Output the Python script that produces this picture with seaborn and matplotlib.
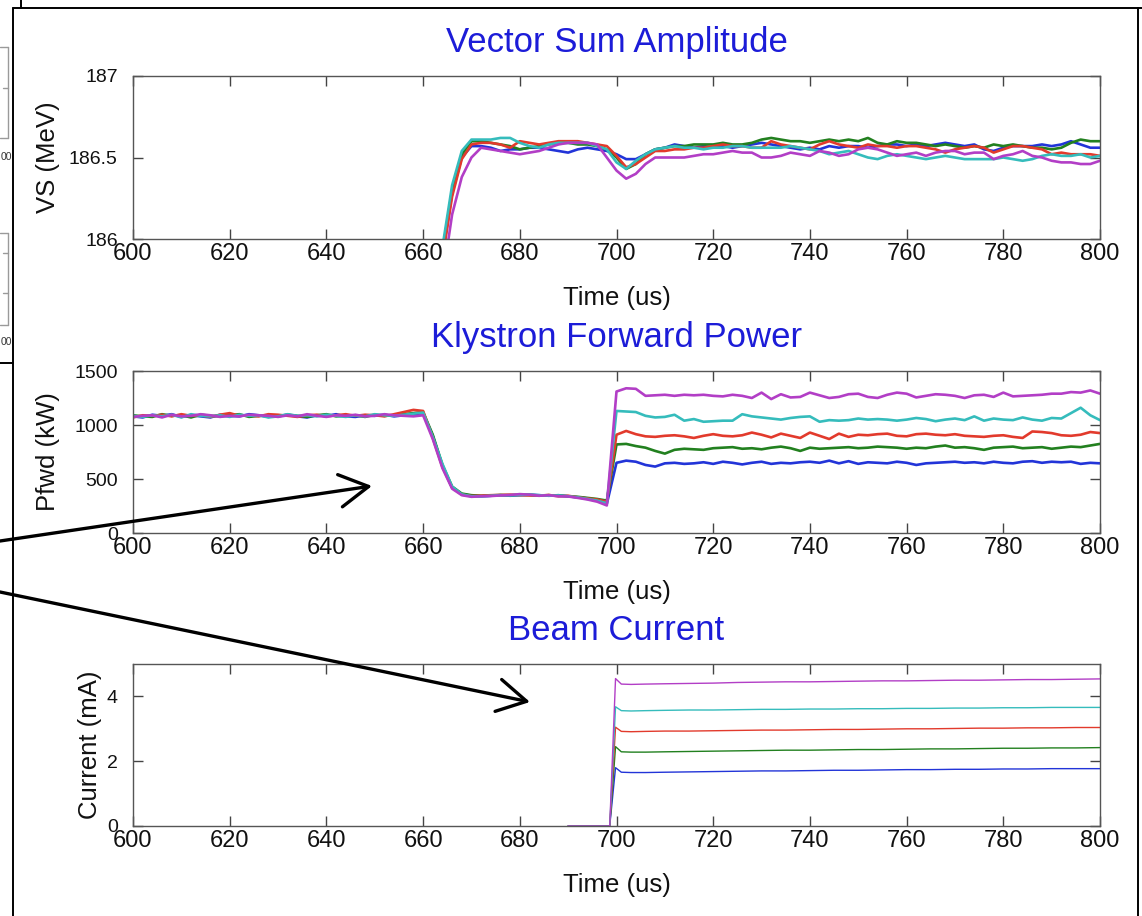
import numpy as np
import pandas as pd
import matplotlib
matplotlib.use("Agg")
import matplotlib.pyplot as plt
from matplotlib.lines import Line2D
from matplotlib.patches import FancyArrowPatch
import seaborn as sns

# ---------------- data ----------------
SERIES = ["s1", "s2", "s3", "s4", "s5"]
COLORS = ["#2234d8", "#22801f", "#e23a2c", "#35bcbc", "#b23ec6"]

# Vector sum amplitude (MeV), time 662..800 us step 2
T_VS = list(range(662, 801, 2))
VS_1 = [185.50,185.90,186.28,186.50,186.57,186.57,186.56,186.54,186.55,186.55,
        186.56,186.56,186.55,186.54,186.53,186.55,186.56,186.55,186.54,186.52,
        186.49,186.49,186.52,186.55,186.56,186.58,186.57,186.56,186.57,186.56,
        186.57,186.56,186.57,186.58,186.59,186.58,186.57,186.56,186.55,186.56,
        186.55,186.57,186.56,186.57,186.57,186.56,186.57,186.58,186.58,186.57,
        186.58,186.57,186.58,186.59,186.58,186.57,186.58,186.55,186.54,186.56,
        186.57,186.57,186.57,186.58,186.57,186.58,186.60,186.58,186.56,186.56]
VS_2 = [185.50,185.92,186.30,186.52,186.60,186.60,186.59,186.58,186.57,186.55,
        186.56,186.57,186.58,186.59,186.59,186.58,186.58,186.57,186.55,186.50,
        186.43,186.46,186.52,186.55,186.56,186.57,186.57,186.58,186.58,186.58,
        186.59,186.58,186.58,186.59,186.61,186.62,186.61,186.60,186.60,186.59,
        186.60,186.61,186.60,186.61,186.60,186.62,186.59,186.58,186.60,186.59,
        186.59,186.58,186.57,186.58,186.57,186.56,186.57,186.56,186.58,186.57,
        186.58,186.57,186.56,186.56,186.55,186.56,186.59,186.61,186.60,186.60]
VS_3 = [185.50,185.88,186.26,186.49,186.58,186.59,186.59,186.58,186.56,186.60,
        186.59,186.58,186.59,186.60,186.60,186.60,186.59,186.58,186.57,186.51,
        186.44,186.46,186.50,186.54,186.54,186.55,186.55,186.56,186.56,186.57,
        186.58,186.57,186.57,186.56,186.56,186.60,186.58,186.57,186.56,186.55,
        186.58,186.60,186.58,186.57,186.56,186.58,186.57,186.57,186.56,186.57,
        186.57,186.56,186.55,186.53,186.55,186.56,186.57,186.56,186.53,186.55,
        186.57,186.57,186.56,186.55,186.52,186.53,186.52,186.52,186.52,186.51]
VS_4 = [185.50,185.95,186.33,186.54,186.61,186.61,186.61,186.62,186.62,186.59,
        186.57,186.56,186.58,186.59,186.59,186.59,186.59,186.57,186.55,186.47,
        186.43,186.48,186.52,186.55,186.56,186.57,186.56,186.56,186.55,186.56,
        186.56,186.57,186.57,186.56,186.56,186.56,186.56,186.57,186.56,186.55,
        186.54,186.52,186.53,186.54,186.52,186.50,186.49,186.51,186.52,186.51,
        186.50,186.49,186.50,186.51,186.50,186.49,186.49,186.49,186.49,186.50,
        186.49,186.48,186.49,186.51,186.52,186.51,186.51,186.52,186.50,186.51]
VS_5 = [185.50,185.75,186.15,186.38,186.50,186.56,186.55,186.54,186.53,186.52,
        186.53,186.54,186.56,186.58,186.59,186.59,186.59,186.58,186.50,186.42,
        186.37,186.40,186.46,186.50,186.50,186.50,186.50,186.51,186.52,186.52,
        186.53,186.54,186.53,186.53,186.50,186.50,186.51,186.53,186.52,186.51,
        186.54,186.53,186.51,186.52,186.55,186.56,186.55,186.53,186.51,186.52,
        186.53,186.51,186.53,186.54,186.54,186.52,186.53,186.53,186.49,186.51,
        186.52,186.54,186.51,186.50,186.48,186.47,186.47,186.46,186.46,186.48]

# Klystron forward power (kW), time 600..800 us step 2
T_PF = list(range(600, 801, 2))
PF_1 = [1080,1070,1095,1085,1100,1075,1090,1080,1070,1095,1085,1080,1100,1090,1075,
        1085,1095,1080,1070,1090,1085,1100,1080,1075,1090,1085,1095,1080,1090,1100,
        1110,900,620,420,360,345,340,345,350,345,350,355,350,345,350,340,330,320,300,270,
        650,670,660,630,615,645,650,640,645,655,640,660,650,635,650,660,640,650,645,655,
        660,650,670,645,665,640,655,650,645,660,650,630,645,650,655,660,650,655,645,660,
        650,645,660,665,650,660,655,660,640,650,645]
PF_2 = [1090,1080,1075,1100,1085,1090,1070,1095,1085,1080,1090,1100,1075,1085,1090,
        1080,1095,1085,1075,1090,1100,1080,1085,1090,1075,1095,1085,1090,1100,1110,
        1120,910,630,430,365,350,345,348,352,350,355,352,348,350,345,340,335,325,315,300,
        820,825,805,790,760,735,770,780,775,770,785,790,795,780,785,775,790,800,785,760,
        790,780,785,790,795,785,790,800,795,790,780,790,785,800,810,790,795,785,770,790,
        795,800,785,790,795,780,790,800,795,810,825]
PF_3 = [1070,1090,1085,1095,1080,1100,1085,1090,1075,1095,1110,1085,1090,1080,1100,
        1095,1085,1075,1090,1095,1080,1090,1100,1085,1095,1090,1080,1100,1120,1140,
        1130,880,610,420,355,342,345,350,352,355,350,348,345,352,340,345,330,320,310,290,
        910,945,915,895,890,900,905,895,880,900,915,900,895,905,930,910,885,920,900,880,
        930,900,870,920,890,910,905,915,920,900,895,915,920,910,905,915,900,895,890,900,
        905,890,880,940,935,925,905,900,910,935,925]
PF_4 = [1085,1075,1090,1080,1095,1070,1100,1085,1080,1090,1075,1095,1085,1090,1070,
        1080,1100,1085,1090,1080,1095,1085,1075,1090,1080,1100,1090,1085,1095,1105,
        1115,890,640,430,358,340,338,345,350,348,352,355,350,345,348,340,330,315,300,275,
        1130,1125,1120,1085,1070,1075,1095,1040,1055,1030,1035,1040,1040,1100,1080,1070,
        1060,1050,1065,1075,1080,1030,1045,1040,1045,1060,1050,1055,1050,1040,1050,1065,
        1055,1035,1050,1060,1045,1080,1040,1060,1050,1045,1070,1050,1040,1065,1060,1110,
        1160,1090,1045]
PF_5 = [1075,1085,1090,1070,1095,1080,1085,1100,1090,1075,1085,1080,1095,1090,1085,
        1075,1090,1080,1100,1085,1075,1090,1085,1095,1080,1085,1100,1090,1085,1080,
        1090,870,600,410,350,335,340,342,348,352,360,355,345,350,340,338,325,310,290,255,
        1310,1340,1335,1270,1275,1280,1270,1280,1275,1280,1270,1265,1280,1270,1250,1300,
        1240,1285,1255,1260,1300,1275,1250,1260,1285,1290,1260,1250,1280,1300,1290,1255,
        1270,1285,1280,1270,1250,1275,1280,1260,1300,1265,1270,1275,1280,1290,1290,1305,
        1300,1320,1290]

# Beam current (mA)
T_I = [690, 698.6, 699.8, 701, 703, 706, 710, 715, 720, 725, 730, 735, 740, 745,
       750, 755, 760, 765, 770, 775, 780, 785, 790, 795, 800]
I_1 = [0,0,1.80,1.66,1.65,1.65,1.66,1.67,1.68,1.69,1.70,1.70,1.71,1.72,1.72,1.73,
       1.74,1.74,1.75,1.75,1.76,1.76,1.77,1.77,1.77]
I_2 = [0,0,2.45,2.29,2.28,2.28,2.29,2.30,2.31,2.32,2.33,2.34,2.34,2.35,2.36,2.36,
       2.37,2.38,2.38,2.39,2.40,2.40,2.41,2.41,2.42]
I_3 = [0,0,3.05,2.92,2.91,2.92,2.93,2.93,2.94,2.95,2.96,2.96,2.97,2.98,2.98,2.99,
       3.00,3.00,3.01,3.02,3.02,3.03,3.03,3.04,3.04]
I_4 = [0,0,3.68,3.56,3.55,3.56,3.57,3.58,3.58,3.59,3.60,3.60,3.61,3.61,3.62,3.62,
       3.63,3.63,3.64,3.64,3.65,3.65,3.66,3.66,3.66]
I_5 = [0,0,4.55,4.38,4.37,4.38,4.39,4.40,4.41,4.43,4.44,4.45,4.45,4.46,4.47,4.48,
       4.48,4.49,4.50,4.50,4.51,4.52,4.52,4.53,4.54]

TITLES = ["Vector Sum Amplitude", "Klystron Forward Power", "Beam Current"]
YLABELS = ["VS (MeV)", "Pfwd (kW)", "Current (mA)"]
XLABEL = "Time (us)"
XTICKS = [600, 620, 640, 660, 680, 700, 720, 740, 760, 780, 800]
YTICKS = [[186, 186.5, 187], [0, 500, 1000, 1500], [0, 2, 4]]
YTICKLABELS = [["186", "186.5", "187"], ["0", "500", "1000", "1500"], ["0", "2", "4"]]
YLIMS = [(186, 187), (0, 1500), (0, 5)]


def long_df(t, arrays):
    rows = []
    for name, arr in zip(SERIES, arrays):
        rows.append(pd.DataFrame({"t": t, "v": arr, "s": name}))
    return pd.concat(rows, ignore_index=True)


frames = [long_df(T_VS, [VS_1, VS_2, VS_3, VS_4, VS_5]),
          long_df(T_PF, [PF_1, PF_2, PF_3, PF_4, PF_5]),
          long_df(T_I, [I_1, I_2, I_3, I_4, I_5])]
LWS = [1.9, 1.9, 1.0]

# ---------------- figure ----------------
sns.set_style("ticks")
plt.rcParams["font.family"] = ["Liberation Sans", "DejaVu Sans"]

W, H = 1142, 916
fig = plt.figure(figsize=(W / 100, H / 100), dpi=100)


def fx(x):
    return x / W


def fy(y):
    return 1 - y / H


ax_px = [(76, 239), (371, 533), (664, 826)]
YLAB_RIGHT = [60, 60, 102]   # right edge (px) of the rotated y labels
L, R = 133, 1100
palette = dict(zip(SERIES, COLORS))
TITLE_COLOR = "#1c1cd8"

for i, (top, bot) in enumerate(ax_px):
    ax = fig.add_axes([fx(L), fy(bot), fx(R) - fx(L), (bot - top) / H])
    sns.lineplot(data=frames[i], x="t", y="v", hue="s", palette=palette,
                 estimator=None, sort=False, legend=False, linewidth=LWS[i], ax=ax)
    ax.set_xlim(600, 800)
    ax.set_ylim(*YLIMS[i])
    ax.set_xticks(XTICKS)
    ax.set_xticklabels([str(v) for v in XTICKS])
    ax.set_yticks(YTICKS[i])
    ax.set_yticklabels(YTICKLABELS[i])
    ax.tick_params(direction="in", length=7, width=1, top=True, right=True,
                   colors="#444444", labelcolor="#111111")
    ax.tick_params(axis="x", labelsize=17, pad=3)
    ax.tick_params(axis="y", labelsize=14, pad=11)
    for sp in ax.spines.values():
        sp.set_visible(True)
        sp.set_color("#555555")
        sp.set_linewidth(1.0)
    ax.set_xlabel(XLABEL, fontsize=18.5, color="#111111")
    ax.xaxis.set_label_coords(0.5, -0.29)
    ax.set_ylabel(YLABELS[i], fontsize=18.5, color="#111111")
    ax.yaxis.set_label_coords((YLAB_RIGHT[i] - L) / (R - L), 0.5)
    ax.set_title(TITLES[i], fontsize=25, color=TITLE_COLOR, pad=17)

# ---------------- slide decorations ----------------
def fline(x0, y0, x1, y1, lw=1.4, color="black"):
    fig.add_artist(Line2D([fx(x0), fx(x1)], [fy(y0), fy(y1)], lw=lw, color=color,
                          transform=fig.transFigure, zorder=20))

fline(13, 8, 13, 916)
fline(13, 8, 1142, 8)
fline(21, 0, 21, 8)
fline(1138, 8, 1138, 916)
fline(0, 363, 13, 363)
# clipped neighbouring panels
g = "#9a9a9a"
fline(0, 47, 8, 47, 1, g); fline(8, 47, 8, 138, 1, g); fline(0, 138, 8, 138, 1, g)
fline(3, 88, 8, 88, 1, g)
fline(0, 233, 8, 233, 1, g); fline(8, 233, 8, 325, 1, g); fline(0, 325, 8, 325, 1, g)
fline(3, 253, 8, 253, 1, g); fline(3, 293, 8, 293, 1, g)
fig.text(fx(0.5), fy(157), "00", fontsize=7.5, color="#333333", va="center", ha="left")
fig.text(fx(0.5), fy(342), "00", fontsize=7.5, color="#333333", va="center", ha="left")

for (x0, y0), (x1, y1) in [((0, 541), (372, 486)), ((0, 592), (530, 702))]:
    fig.add_artist(FancyArrowPatch((fx(x0), fy(y0)), (fx(x1), fy(y1)),
                                   transform=fig.transFigure,
                                   arrowstyle="->,head_length=0.8,head_width=0.45",
                                   mutation_scale=26, lw=2.4, color="black",
                                   shrinkA=0, shrinkB=0, zorder=25))

fig.savefig("out.png", dpi=100)
